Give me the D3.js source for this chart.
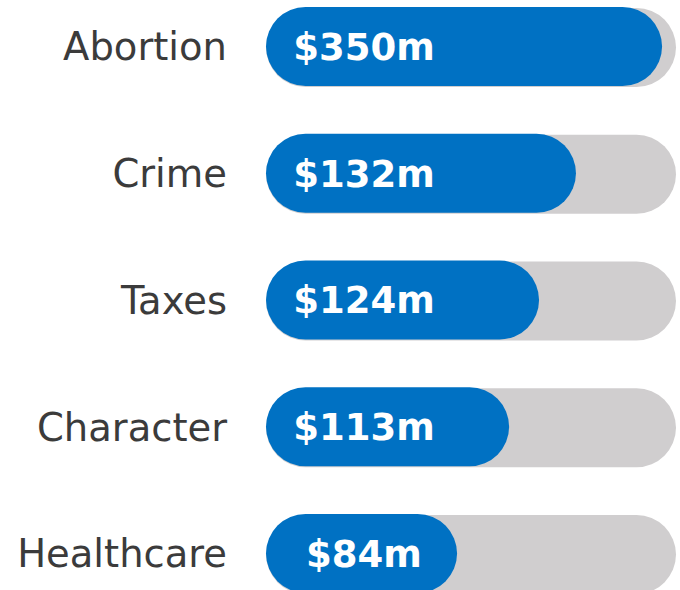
<!DOCTYPE html>
<html>
<head>
<meta charset="utf-8">
<script src="https://cdn.jsdelivr.net/npm/d3@7"></script>
<style>
  html, body { margin: 0; padding: 0; background: #fff; }
  svg { display: block; }
</style>
</head>
<body>
<div id="chart"></div>
<script>
// Issues and ad spending
const categories = ["Abortion", "Crime", "Taxes", "Character", "Healthcare"];
const valueLabels = ["$350m", "$132m", "$124m", "$113m", "$84m"];
const spending = [350, 132, 124, 113, 84];
// share of the track that each blue bar fills
const barFill = [0.966, 0.756, 0.666, 0.593, 0.466];

const width = 680;
const height = 590;

const svg = d3.select("#chart")
    .append("svg")
    .attr("width", width)
    .attr("height", height);

// scales
const y = d3.scalePoint()
    .domain(categories)
    .range([46.5, 553.5]);

const x = d3.scaleLinear()
    .domain([0, 1])
    .range([266, 676]);

const barH = 79;
const rows = categories.map((c, i) => ({ cat: c, label: valueLabels[i], value: spending[i], fill: barFill[i] }));

const row = svg.selectAll("g.row")
    .data(rows)
    .enter().append("g")
    .attr("class", "row");

// grey track
row.append("rect")
    .attr("x", x(0))
    .attr("y", d => y(d.cat) - barH / 2 + 1)
    .attr("width", x(1) - x(0))
    .attr("height", barH)
    .attr("rx", barH / 2)
    .attr("fill", "#d0cecf");

// blue bar
row.append("rect")
    .attr("x", x(0))
    .attr("y", d => y(d.cat) - barH / 2)
    .attr("width", d => x(d.fill) - x(0))
    .attr("height", barH)
    .attr("rx", barH / 2)
    .attr("fill", "#0071c3");

// category labels
row.append("text")
    .attr("x", 227)
    .attr("y", d => y(d.cat))
    .attr("dy", "0.36em")
    .attr("text-anchor", "end")
    .attr("font-family", "'DejaVu Sans', sans-serif")
    .attr("font-size", 38.5)
    .attr("fill", "#3b3b3b")
    .text(d => d.cat);

// value labels
row.append("text")
    .attr("x", 364)
    .attr("y", d => y(d.cat))
    .attr("dy", "0.36em")
    .attr("text-anchor", "middle")
    .attr("font-family", "'DejaVu Sans', sans-serif")
    .attr("font-weight", "bold")
    .attr("font-size", 37)
    .attr("fill", "#ffffff")
    .text(d => d.label);
</script>
</body>
</html>
